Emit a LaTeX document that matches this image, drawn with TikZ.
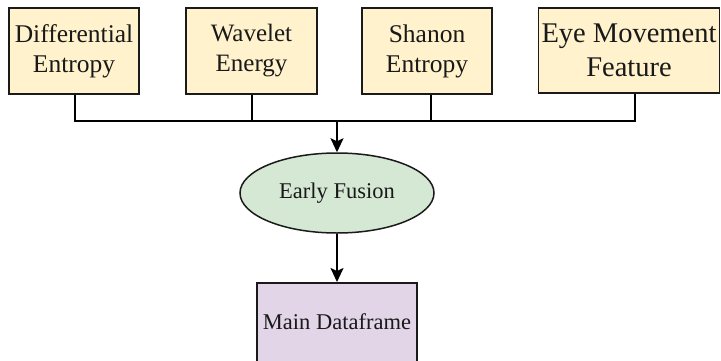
\documentclass[tikz,border=0pt]{standalone}
\usepackage{fontspec}
\setmainfont{Liberation Serif}
\usetikzlibrary{arrows.meta,shapes.geometric}
\definecolor{beige}{HTML}{FFF2CC}
\definecolor{fgreen}{HTML}{D5E8D4}
\definecolor{fpurple}{HTML}{E1D5E7}
\definecolor{edge}{HTML}{1A1A1A}
\begin{document}
\begin{tikzpicture}[x=1pt,y=-1pt,
  feat/.style={draw=edge,line width=1.5pt,fill=beige,rectangle,inner sep=0pt,align=center,text=black!90},
  conn/.style={draw=black,line width=2pt},
  arr/.style={conn,-{Stealth[length=14pt,width=13pt,inset=3pt]}}]
\useasboundingbox (0,0) rectangle (721,360);
\node[feat,minimum width=130pt,minimum height=86pt,font=\fontsize{25.5}{30}\selectfont] (b1) at (74,51) {Differential\\Entropy};
\node[feat,minimum width=131pt,minimum height=86pt,font=\fontsize{25}{30}\selectfont] (b2) at (251.5,51) {Wavelet\\Energy};
\node[feat,minimum width=130pt,minimum height=86pt,font=\fontsize{25.5}{30}\selectfont] (b3) at (427,51) {Shanon\\Entropy};
\node[feat,minimum width=181pt,minimum height=85pt,font=\fontsize{28.5}{34}\selectfont] (b4) at (629,50.5) {Eye Movement\\Feature};
\node[draw=edge,line width=1.5pt,fill=fgreen,ellipse,minimum width=194pt,minimum height=80pt,inner sep=0pt,font=\fontsize{22.5}{27}\selectfont,text=black!90] (ef) at (337,193) {Early Fusion};
\node[draw=edge,line width=1.5pt,fill=fpurple,rectangle,minimum width=160pt,minimum height=110pt,inner sep=0pt,anchor=north] (md) at (337,282) {};
\node[font=\fontsize{22.5}{27}\selectfont,anchor=base,text=black!90] (mdt) at (337,329) {Main Dataframe};
\coordinate (j) at (337,121);
\draw[conn] ([xshift=1pt]b1.south) |- (j);
\draw[conn] ([xshift=0.5pt]b2.south) |- (j);
\draw[conn] ([xshift=4pt]b3.south) |- (j);
\draw[conn] ([xshift=6pt]b4.south) |- (j);
\draw[arr] (j) -- (ef.north);
\draw[arr] (ef.south) -- (md.north);
\end{tikzpicture}
\end{document}
